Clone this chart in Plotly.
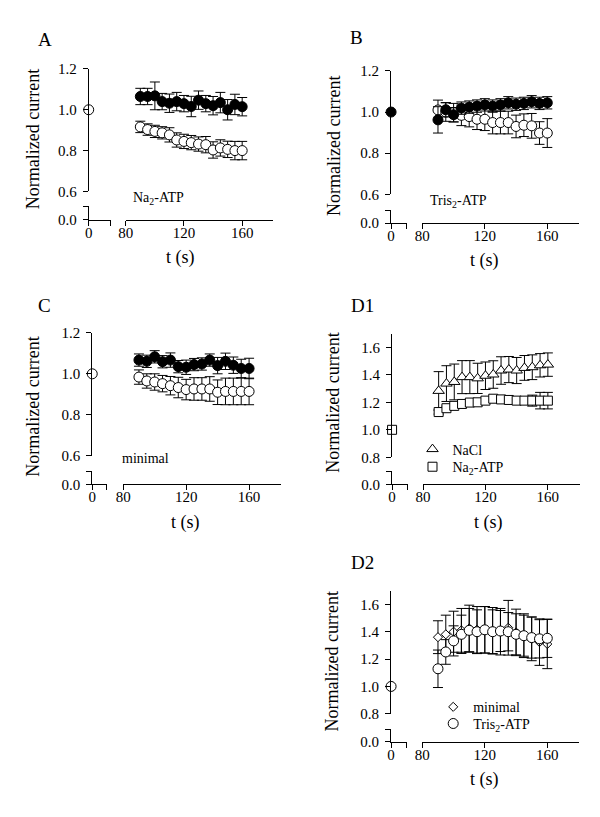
import plotly.graph_objects as go

# page is 600x817; the browser's default 8px body margin surrounds the figure
PAGE_W, PAGE_H = 600, 817
OFF = 8
W, H = PAGE_W - 2 * OFF, PAGE_H - 2 * OFF
FONT = "Liberation Serif"

# ---------------- data ----------------
t = [90, 95, 100, 105, 110, 115, 120, 125, 130, 135, 140, 145, 150, 155, 160]
t0 = [0]
norm0 = [1.0]

A_filled = [1.065, 1.065, 1.068, 1.040, 1.032, 1.040, 1.030, 1.016, 1.047, 1.030, 1.020, 1.035, 1.000, 1.026, 1.015]
A_filled_err = [0.040, 0.040, 0.068, 0.040, 0.045, 0.045, 0.040, 0.050, 0.045, 0.040, 0.045, 0.050, 0.050, 0.050, 0.045]
A_open = [0.916, 0.903, 0.894, 0.887, 0.877, 0.852, 0.845, 0.839, 0.832, 0.829, 0.803, 0.813, 0.806, 0.800, 0.800]
A_open_err = [0.028, 0.028, 0.030, 0.030, 0.035, 0.035, 0.035, 0.035, 0.035, 0.040, 0.040, 0.040, 0.040, 0.045, 0.045]

B_filled = [0.962, 1.011, 0.987, 1.019, 1.024, 1.029, 1.035, 1.029, 1.035, 1.045, 1.038, 1.042, 1.050, 1.042, 1.045]
B_filled_err = [0.064, 0.035, 0.035, 0.030, 0.030, 0.030, 0.030, 0.030, 0.030, 0.030, 0.030, 0.030, 0.030, 0.030, 0.030]
B_open = [1.010, 1.000, 0.997, 0.984, 0.978, 0.965, 0.965, 0.949, 0.949, 0.949, 0.930, 0.936, 0.933, 0.898, 0.898]
B_open_err = [0.048, 0.045, 0.045, 0.050, 0.050, 0.050, 0.055, 0.055, 0.055, 0.055, 0.055, 0.055, 0.060, 0.055, 0.070]

C_filled = [1.067, 1.061, 1.083, 1.059, 1.067, 1.035, 1.032, 1.045, 1.048, 1.067, 1.040, 1.061, 1.042, 1.026, 1.026]
C_filled_err = [0.030, 0.030, 0.030, 0.030, 0.035, 0.030, 0.035, 0.030, 0.030, 0.030, 0.040, 0.040, 0.040, 0.045, 0.050]
C_open = [0.984, 0.965, 0.960, 0.952, 0.942, 0.933, 0.923, 0.926, 0.926, 0.926, 0.910, 0.914, 0.914, 0.914, 0.914]
C_open_err = [0.035, 0.035, 0.040, 0.040, 0.045, 0.050, 0.050, 0.055, 0.055, 0.060, 0.060, 0.065, 0.065, 0.065, 0.065]

D1_nacl = [1.283, 1.336, 1.348, 1.383, 1.383, 1.374, 1.393, 1.402, 1.431, 1.438, 1.431, 1.450, 1.455, 1.469, 1.474]
D1_nacl_err = [0.14, 0.13, 0.13, 0.12, 0.12, 0.11, 0.10, 0.10, 0.10, 0.095, 0.095, 0.09, 0.09, 0.085, 0.085]
D1_atp = [1.129, 1.157, 1.174, 1.188, 1.198, 1.200, 1.212, 1.226, 1.221, 1.217, 1.212, 1.212, 1.212, 1.212, 1.212]
D1_atp_err = [0.015, 0.015, 0.015, 0.015, 0.015, 0.015, 0.015, 0.015, 0.02, 0.02, 0.02, 0.02, 0.04, 0.06, 0.06]

D2_minimal = [1.360, 1.381, 1.400, 1.410, 1.424, 1.414, 1.414, 1.407, 1.400, 1.429, 1.395, 1.371, 1.348, 1.324, 1.310]
D2_minimal_err = [0.12, 0.14, 0.15, 0.16, 0.17, 0.17, 0.17, 0.17, 0.17, 0.20, 0.17, 0.16, 0.16, 0.17, 0.18]
D2_tris = [1.129, 1.252, 1.333, 1.381, 1.410, 1.400, 1.414, 1.400, 1.405, 1.400, 1.381, 1.371, 1.357, 1.348, 1.352]
D2_tris_err = [0.137, 0.09, 0.11, 0.14, 0.16, 0.16, 0.17, 0.16, 0.15, 0.14, 0.15, 0.15, 0.15, 0.14, 0.14]

xR_ticks = [80, 120, 160]
yU_ticks_small = [0.6, 0.8, 1.0, 1.2]
yU_ticks_large = [0.8, 1.0, 1.2, 1.4, 1.6]

# ---------------- geometry (page pixels) ----------------
panels = [
    dict(name="A", x0=81.7, xLe=104, xRs=119.3, xRe=268.3, xRmax=181.0,
         yUt=62, yUb=187, yUr=[0.6, 1.2], yUticks=yU_ticks_small, yLt=202, yLb=216),
    dict(name="B", x0=388.3, xLe=404.3, xRs=420, xRe=579.3, xRmax=180.6,
         yUt=64, yUb=190, yUr=[0.6, 1.2], yUticks=yU_ticks_small, yLt=206, yLb=219.3),
    dict(name="C", x0=85.3, xLe=100, xRs=116.7, xRe=276.7, xRmax=180.3,
         yUt=331.3, yUb=456.7, yUr=[0.6, 1.2], yUticks=yU_ticks_small, yLt=472.3, yLb=486),
    dict(name="D1", x0=389.3, xLe=405, xRs=420.7, xRe=580, xRmax=180.7,
         yUt=332, yUb=458.3, yUr=[0.8, 1.7], yUticks=yU_ticks_large, yLt=472.3, yLb=486),
    dict(name="D2", x0=388.3, xLe=404.3, xRs=420, xRe=579.3, xRmax=180.6,
         yUt=594.4, yUb=720, yUr=[0.8, 1.7], yUticks=yU_ticks_large, yLt=735.7, yLb=748.7),
]


def fx(p):
    return (p - OFF) / W


def fy(p):
    return 1 - (p - OFF) / H


counters = {"x": 0, "y": 0}


def new_axis(letter):
    counters[letter] += 1
    n = counters[letter]
    aid = letter if n == 1 else f"{letter}{n}"
    key = f"{letter}axis" if n == 1 else f"{letter}axis{n}"
    return aid, key


tickfont = dict(family=FONT, size=15, color="black")
common = dict(showgrid=False, zeroline=False, fixedrange=True, linecolor="black",
              linewidth=1, tickcolor="black", tickwidth=1, ticklen=5, tickfont=tickfont)

layout_axes = {}
fig = go.Figure()


def mark_axis(base, dom, rng, anchor, vals, direction):
    """Overlay axis that only adds tick marks (used for the crossing ticks at the breaks)."""
    return dict(common, domain=dom, range=rng, anchor=anchor, overlaying=base,
                tickmode="array", tickvals=vals, ticks=direction,
                showticklabels=False, showline=False)


for p in panels:
    xL, xLk = new_axis("x")
    xLi, xLik = new_axis("x")
    xLo, xLok = new_axis("x")
    xR, xRk = new_axis("x")
    xRi, xRik = new_axis("x")
    yU, yUk = new_axis("y")
    yL, yLk = new_axis("y")
    yLi, yLik = new_axis("y")
    yLo, yLok = new_axis("y")
    p.update(xL=xL, xR=xR, yU=yU, yL=yL)

    xdomL = [fx(p["x0"]), fx(p["xLe"])]
    xdomR = [fx(p["xRs"]), fx(p["xRe"])]
    ydomU = [fy(p["yUb"]), fy(p["yUt"])]
    ydomL = [fy(p["yLb"]), fy(p["yLt"])]
    xRr = [80, p["xRmax"]]

    layout_axes[xLk] = dict(common, domain=xdomL, range=[0, 1], anchor=yL, tickmode="array",
                            tickvals=[0], ticktext=["0"], ticks="outside", showline=True,
                            ticklabelstandoff=-6)
    layout_axes[xLik] = mark_axis(xL, xdomL, [0, 1], yL, [1], "inside")
    layout_axes[xLok] = mark_axis(xL, xdomL, [0, 1], yL, [1], "outside")
    layout_axes[xRk] = dict(common, domain=xdomR, range=xRr, anchor=yL,
                            tickmode="array", tickvals=xR_ticks,
                            ticktext=[str(v) for v in xR_ticks], ticks="outside", showline=True,
                            ticklabelstandoff=-6)
    layout_axes[xRik] = mark_axis(xR, xdomR, xRr, yL, [80], "inside")
    layout_axes[yUk] = dict(common, domain=ydomU, range=p["yUr"], anchor=xL, tickmode="array",
                            tickvals=p["yUticks"], ticktext=[f"{v:.1f}" for v in p["yUticks"]],
                            ticks="outside", showline=True, ticklabelstandoff=3)
    layout_axes[yLk] = dict(common, domain=ydomL, range=[0, 1], anchor=xL, tickmode="array",
                            tickvals=[0], ticktext=["0.0"], ticks="outside", showline=True,
                            ticklabelstandoff=3)
    layout_axes[yLik] = mark_axis(yL, ydomL, [0, 1], xL, [1], "inside")
    layout_axes[yLok] = mark_axis(yL, ydomL, [0, 1], xL, [1], "outside")

    # empty traces so every anchor / overlay subplot exists
    for xa, ya in ((xL, yL), (xR, yL), (xLi, yL), (xLo, yL), (xRi, yL), (xL, yLi), (xL, yLo)):
        fig.add_trace(go.Scatter(x=[], y=[], xaxis=xa, yaxis=ya, showlegend=False,
                                 hoverinfo="skip"))


def series(p, y, err, symbol, size, fill, name=None, legend=None, zero=False):
    fig.add_trace(go.Scatter(
        x=t, y=y, mode="markers", xaxis=p["xR"], yaxis=p["yU"], cliponaxis=False,
        error_y=dict(type="data", array=err, visible=True, color="black", thickness=1, width=5),
        marker=dict(symbol=symbol, size=size, color=fill, line=dict(color="black", width=1)),
        name=name, showlegend=name is not None, legend=legend or "legend"))
    if zero:
        fig.add_trace(go.Scatter(
            x=t0, y=norm0, mode="markers", xaxis=p["xL"], yaxis=p["yU"], cliponaxis=False,
            marker=dict(symbol=symbol, size=size, color=fill, line=dict(color="black", width=1)),
            showlegend=False, hoverinfo="skip"))


PA, PB, PC, PD1, PD2 = panels
series(PA, A_open, A_open_err, "circle", 10, "white", zero=True)
series(PA, A_filled, A_filled_err, "circle", 10, "black")
series(PB, B_open, B_open_err, "circle", 10, "white")
series(PB, B_filled, B_filled_err, "circle", 10, "black", zero=True)
series(PC, C_open, C_open_err, "circle", 10, "white", zero=True)
series(PC, C_filled, C_filled_err, "circle", 10, "black")
series(PD1, D1_nacl, D1_nacl_err, "triangle-up", 10, "white", name="NaCl", legend="legend")
series(PD1, D1_atp, D1_atp_err, "square", 9, "white", name="Na<sub>2</sub>-ATP", legend="legend3", zero=True)
series(PD2, D2_minimal, D2_minimal_err, "diamond", 7, "white", name="minimal", legend="legend2")
series(PD2, D2_tris, D2_tris_err, "circle", 10, "white", name="Tris<sub>2</sub>-ATP", legend="legend4", zero=True)

annotations = []


def text(x, y, s, size, angle=0, xanchor="center"):
    annotations.append(dict(x=fx(x), y=fy(y), xref="paper", yref="paper", text=s,
                            showarrow=False, textangle=angle, xanchor=xanchor, yanchor="middle",
                            font=dict(family=FONT, size=size, color="black")))


# panel letters
text(37, 32, "A", 19)
text(353, 30, "B", 19)
text(37, 303, "C", 19)
text(359, 303, "D1", 19)
text(359, 566, "D2", 19)
# y titles
text(26, 134, "Normalized current", 18, -90)
text(331, 141, "Normalized current", 18, -90)
text(25, 407, "Normalized current", 18, -90)
text(330, 403, "Normalized current", 18, -90)
text(328, 667, "Normalized current", 18, -90)
# x titles
text(175, 254, "t (s)", 18)
text(483, 257, "t (s)", 18)
text(180, 525, "t (s)", 18)
text(487, 525, "t (s)", 18)
text(483, 787, "t (s)", 18)
# condition labels
text(152, 194, "Na<sub>2</sub>-ATP", 14)
text(457, 197, "Tris<sub>2</sub>-ATP", 14)
text(139, 460, "minimal", 14)

legfont = dict(family=FONT, size=14, color="black")


def leg(xp, yp):
    return dict(x=fx(xp), y=fy(yp), xanchor="left", yanchor="top", bgcolor="rgba(0,0,0,0)",
                font=legfont, tracegroupgap=0, itemwidth=30)


fig.update_layout(
    width=W, height=H, margin=dict(l=0, r=0, t=0, b=0),
    paper_bgcolor="white", plot_bgcolor="rgba(0,0,0,0)",
    annotations=annotations,
    legend=leg(410, 434),
    legend3=leg(410, 452),
    legend2=leg(431, 697),
    legend4=leg(431, 714),
    **layout_axes,
)

fig.write_html("out.html", config={"displayModeBar": False})
